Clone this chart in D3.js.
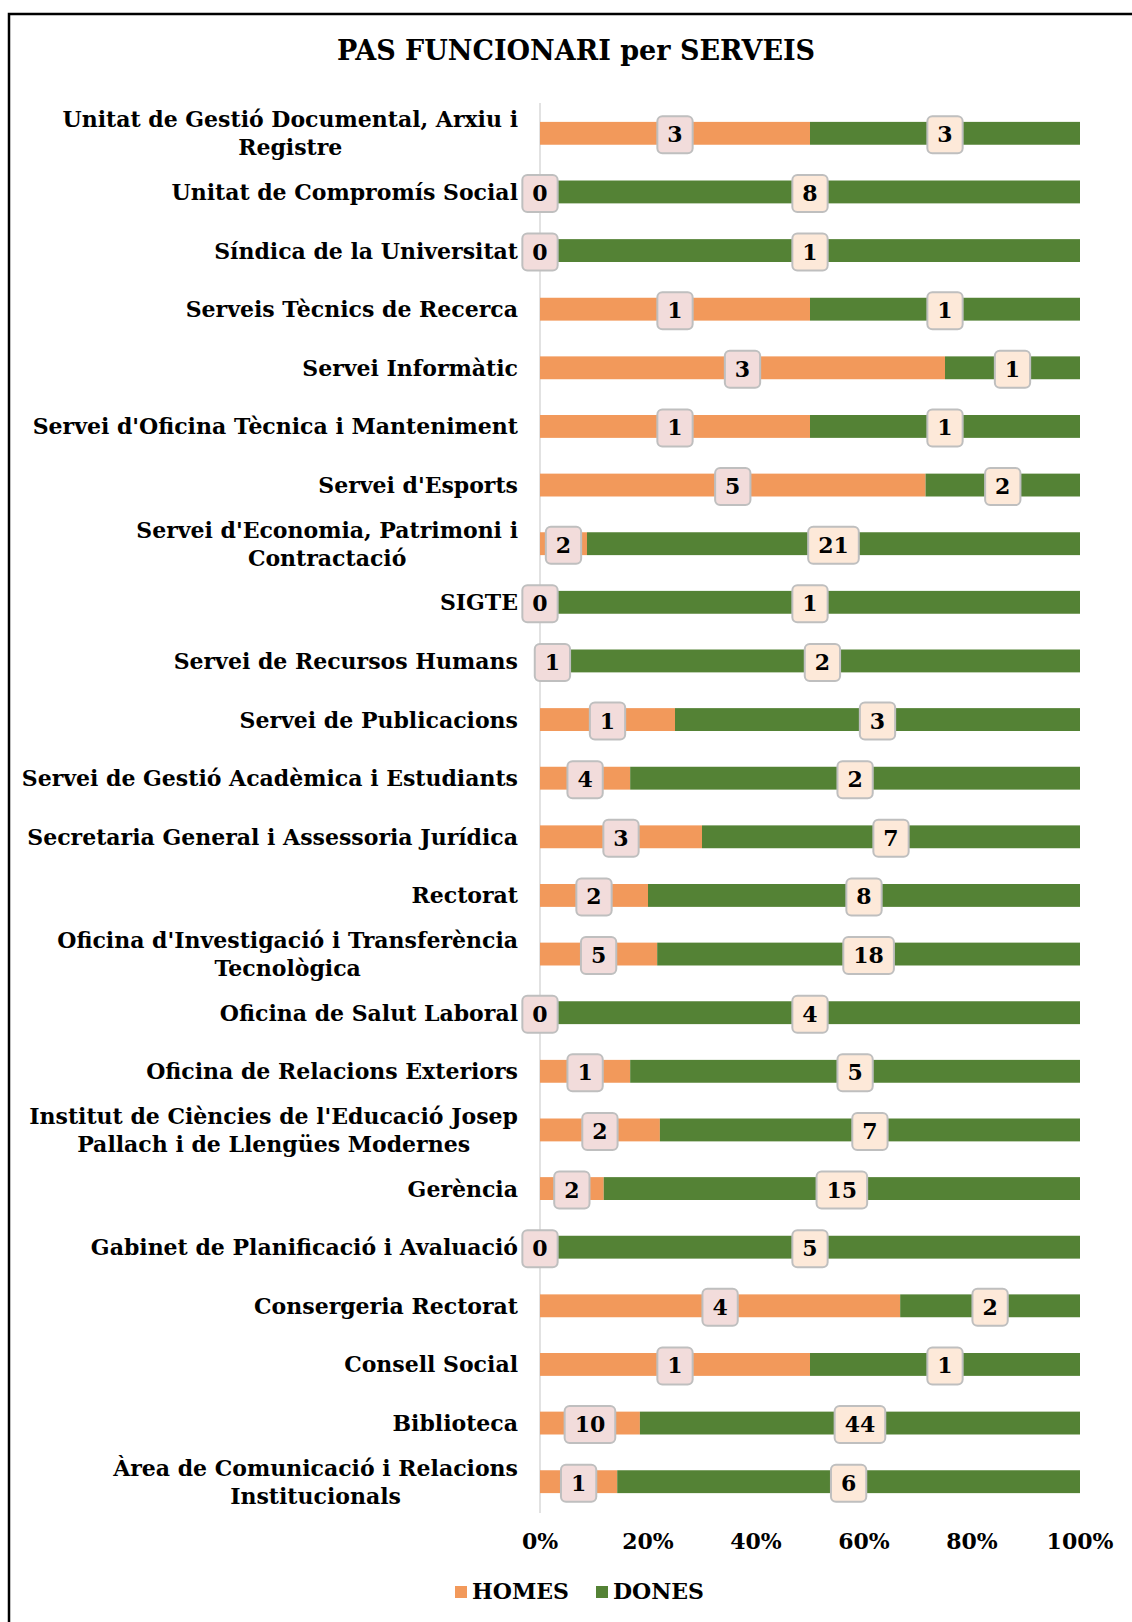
<!DOCTYPE html>
<html>
<head>
<meta charset="utf-8">
<script src="https://cdnjs.cloudflare.com/ajax/libs/d3/7.8.5/d3.min.js"></script>
<style>
  body { margin: 0; background: #fff; }
  text { font-family: "DejaVu Serif", Georgia, serif; font-weight: bold; fill: #000; }
</style>
</head>
<body>
<script>
// Categories, top to bottom (line breaks as in the original)
var categories = [
  ["Unitat de Gestió Documental, Arxiu i", "Registre"],
  ["Unitat de Compromís Social"],
  ["Síndica de la Universitat"],
  ["Serveis Tècnics de Recerca"],
  ["Servei Informàtic"],
  ["Servei d'Oficina Tècnica i Manteniment"],
  ["Servei d'Esports"],
  ["Servei d'Economia, Patrimoni i", "Contractació"],
  ["SIGTE"],
  ["Servei de Recursos Humans"],
  ["Servei de Publicacions"],
  ["Servei de Gestió Acadèmica i Estudiants"],
  ["Secretaria General i Assessoria Jurídica"],
  ["Rectorat"],
  ["Oficina d'Investigació i Transferència", "Tecnològica"],
  ["Oficina de Salut Laboral"],
  ["Oficina de Relacions Exteriors"],
  ["Institut de Ciències de l'Educació Josep", "Pallach i de Llengües Modernes"],
  ["Gerència"],
  ["Gabinet de Planificació i Avaluació"],
  ["Consergeria Rectorat"],
  ["Consell Social"],
  ["Biblioteca"],
  ["Àrea de Comunicació i Relacions", "Institucionals"]
];

// printed counts
var homes = [3, 0, 0, 1, 3, 1, 5, 2, 0, 1, 1, 4, 3, 2, 5, 0, 1, 2, 2, 0, 4, 1, 10, 1];
var dones = [3, 8, 1, 1, 1, 1, 2, 21, 1, 2, 3, 2, 7, 8, 18, 4, 5, 7, 15, 5, 2, 1, 44, 6];

// share of HOMES (%) as drawn by the bars
var homesPct = [50, 0, 0, 50, 75, 50, 71.4, 8.7, 0, 4.6, 25, 16.7, 30, 20, 21.7, 0, 16.7, 22.2, 11.8, 0, 66.7, 50, 18.5, 14.3];

var ticks = [0, 20, 40, 60, 80, 100];
var series = ["HOMES", "DONES"];
var colors = ["#f2995b", "#548235"];
var labelFill = ["#f2dcdb", "#fde9d9"];

var svgWidth = 1132, svgHeight = 1622;
var fontSize = "22px";

var svg = d3.select("body").append("svg")
  .attr("width", svgWidth)
  .attr("height", svgHeight);

// outer frame
svg.append("rect")
  .attr("x", 9).attr("y", 14)
  .attr("width", 1140).attr("height", 1640)
  .attr("fill", "none")
  .attr("stroke", "#000")
  .attr("stroke-width", 2.5);

svg.append("text")
  .attr("x", 576).attr("y", 60)
  .attr("text-anchor", "middle")
  .style("font-size", "27px")
  .text("PAS FUNCIONARI per SERVEIS");

var x = d3.scaleLinear().domain([0, 100]).range([540, 1080]);
var y = d3.scaleBand()
  .domain(d3.range(categories.length))
  .range([104, 1511])
  .paddingInner(0.61)
  .paddingOuter(0.305);

var rows = categories.map(function(c, i) {
  return {i: i, lines: c, h: homes[i], d: dones[i], p: homesPct[i]};
});

// axis line
svg.append("line")
  .attr("x1", x(0)).attr("x2", x(0))
  .attr("y1", 103).attr("y2", 1513)
  .attr("stroke", "#d9d9d9")
  .attr("stroke-width", 1.5);

// bars
var bar = svg.append("g");
bar.selectAll(".homes")
  .data(rows)
  .enter().append("rect")
  .attr("x", x(0))
  .attr("y", d => y(d.i))
  .attr("width", d => x(d.p) - x(0))
  .attr("height", y.bandwidth())
  .attr("fill", colors[0]);
bar.selectAll(".dones")
  .data(rows)
  .enter().append("rect")
  .attr("x", d => x(d.p))
  .attr("y", d => y(d.i))
  .attr("width", d => x(100) - x(d.p))
  .attr("height", y.bandwidth())
  .attr("fill", colors[1]);

// category labels: block right aligned, lines centred on each other
var labelRight = 518;
rows.forEach(function(d) {
  var cy = y(d.i) + y.bandwidth() / 2;
  var g = svg.append("g");
  var n = d.lines.length;
  var txts = d.lines.map(function(line, k) {
    return g.append("text")
      .attr("y", cy + (k - (n - 1) / 2) * 28 + 8)
      .style("font-size", fontSize)
      .text(line);
  });
  var maxW = d3.max(txts, t => t.node().getComputedTextLength());
  txts.forEach(t => t.attr("x", labelRight - maxW / 2).attr("text-anchor", "middle"));
});

// data labels
function addLabel(cx, cy, txt, fill) {
  var g = svg.append("g");
  var t = g.append("text")
    .attr("x", cx).attr("y", cy + 8)
    .attr("text-anchor", "middle")
    .style("font-size", fontSize)
    .text(txt);
  var w = t.node().getComputedTextLength() + 20;
  g.insert("rect", "text")
    .attr("x", cx - w / 2).attr("y", cy - 18)
    .attr("width", w).attr("height", 37)
    .attr("rx", 5)
    .attr("fill", fill)
    .attr("stroke", "#bfbfbf")
    .attr("stroke-width", 2);
}
rows.forEach(function(d) {
  var cy = y(d.i) + y.bandwidth() / 2 + 1;
  addLabel(x(d.p / 2), cy, d.h, labelFill[0]);
  addLabel(x((d.p + 100) / 2), cy, d.d, labelFill[1]);
});

// x ticks
svg.append("g").selectAll("text")
  .data(ticks)
  .enter().append("text")
  .attr("x", d => x(d))
  .attr("y", 1549)
  .attr("text-anchor", "middle")
  .style("font-size", fontSize)
  .text(d => d + "%");

// legend
var legendX = [455, 596];
series.forEach(function(s, i) {
  svg.append("rect")
    .attr("x", legendX[i]).attr("y", 1586)
    .attr("width", 12).attr("height", 12)
    .attr("fill", colors[i]);
  svg.append("text")
    .attr("x", legendX[i] + 17).attr("y", 1599)
    .style("font-size", fontSize)
    .text(s);
});
</script>
</body>
</html>
